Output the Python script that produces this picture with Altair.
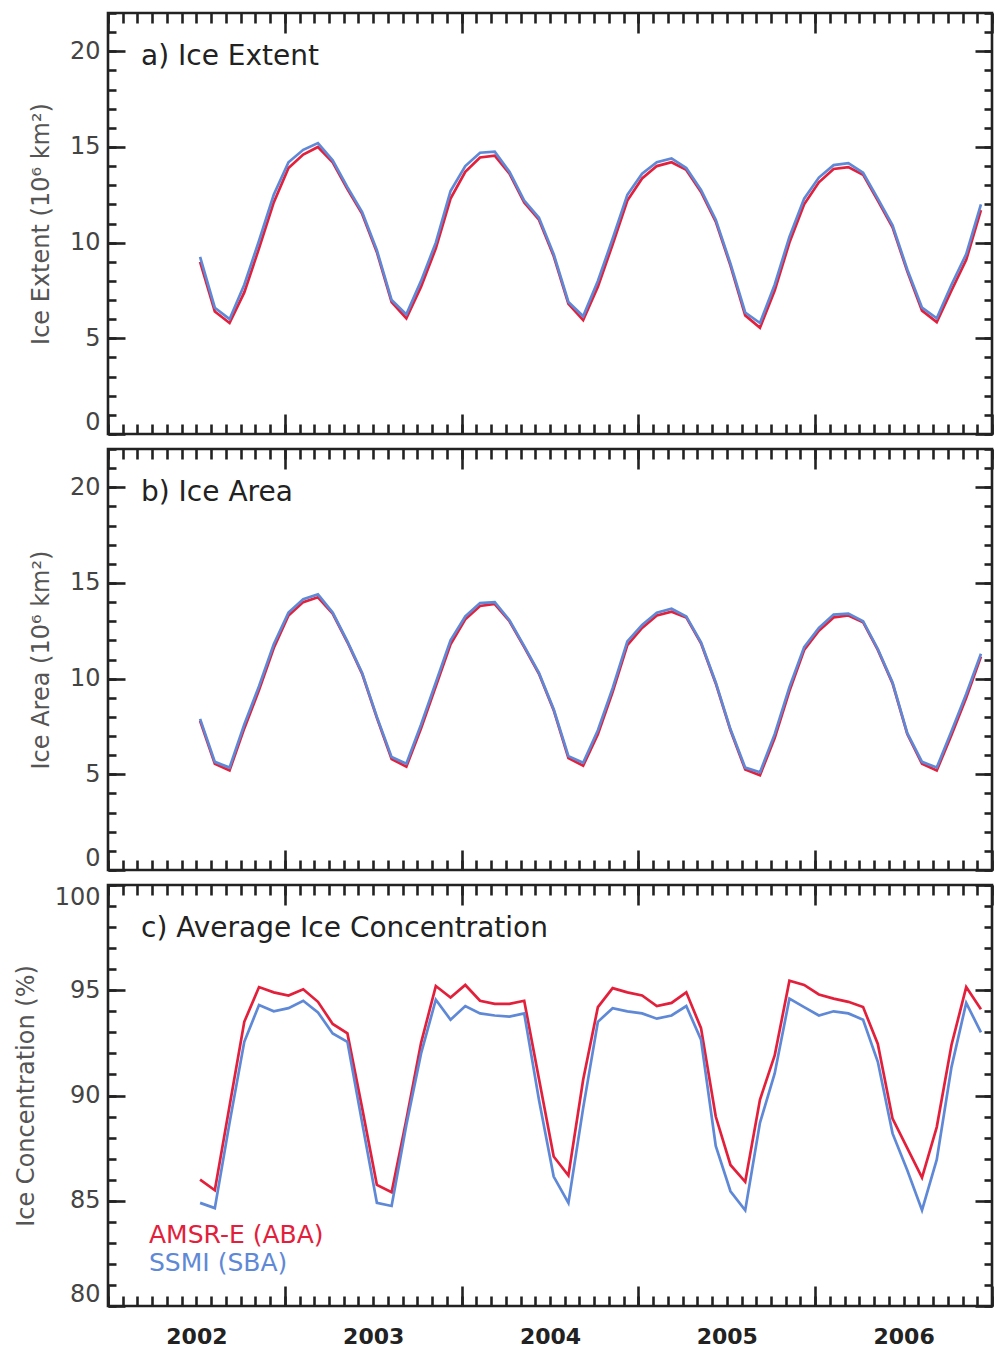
import altair as alt
import pandas as pd

FONT = "DejaVu Sans"

# ---------------- data (monthly, Jul 2002 - Dec 2006) ----------------
months = [f"{y}-{m:02d}" for y in range(2002, 2007) for m in range(1, 13)][6:]

series_names = ["AMSR-E (ABA)", "SSMI (SBA)"]
series_colors = ["#e3203b", "#5f89d6"]

# a) Ice extent (10^6 km^2)
extent_amsr = [9.0, 6.4, 5.8, 7.4, 9.7, 12.1,
               13.9, 14.6, 15.0, 14.2, 12.8, 11.5, 9.5, 6.9, 6.05, 7.7, 9.7, 12.3,
               13.7, 14.45, 14.55, 13.6, 12.1, 11.2, 9.3, 6.8, 5.95, 7.7, 9.9, 12.2,
               13.35, 14.0, 14.2, 13.8, 12.65, 11.1, 8.8, 6.2, 5.55, 7.5, 10.0, 12.0,
               13.15, 13.85, 13.95, 13.55, 12.2, 10.8, 8.5, 6.45, 5.85, 7.5, 9.1, 11.7]
extent_ssmi = [9.25, 6.6, 6.0, 7.8, 10.1, 12.5,
               14.2, 14.85, 15.2, 14.3, 12.9, 11.6, 9.6, 7.0, 6.25, 8.0, 10.0, 12.7,
               14.0, 14.7, 14.75, 13.7, 12.2, 11.3, 9.4, 6.9, 6.15, 8.0, 10.2, 12.5,
               13.6, 14.2, 14.4, 13.9, 12.75, 11.2, 8.9, 6.35, 5.8, 7.8, 10.3, 12.3,
               13.4, 14.05, 14.15, 13.65, 12.3, 10.9, 8.6, 6.6, 6.05, 7.8, 9.4, 12.0]

# b) Ice area (10^6 km^2)
area_amsr = [7.8, 5.55, 5.2, 7.4, 9.4, 11.6,
             13.3, 14.0, 14.25, 13.4, 11.9, 10.25, 7.95, 5.8, 5.4, 7.4, 9.6, 11.8,
             13.1, 13.8, 13.9, 13.0, 11.65, 10.25, 8.35, 5.85, 5.45, 7.1, 9.3, 11.75,
             12.65, 13.3, 13.5, 13.2, 11.85, 9.75, 7.3, 5.25, 4.95, 6.9, 9.35, 11.5,
             12.5, 13.2, 13.3, 12.95, 11.5, 9.75, 7.1, 5.55, 5.2, 7.05, 9.0, 11.15]
area_ssmi = [7.9, 5.65, 5.35, 7.6, 9.6, 11.8,
             13.45, 14.15, 14.4, 13.45, 11.95, 10.3, 8.0, 5.9, 5.55, 7.6, 9.8, 12.0,
             13.25, 13.95, 14.0, 13.05, 11.7, 10.3, 8.4, 5.95, 5.6, 7.3, 9.5, 11.95,
             12.8, 13.45, 13.65, 13.25, 11.9, 9.8, 7.35, 5.35, 5.1, 7.1, 9.55, 11.65,
             12.65, 13.35, 13.4, 13.0, 11.55, 9.8, 7.15, 5.65, 5.35, 7.25, 9.2, 11.3]

# c) Average ice concentration (%)
conc_amsr = [86.0, 85.5, 89.5, 93.5, 95.15, 94.9,
             94.75, 95.05, 94.45, 93.4, 92.95, 89.4, 85.75, 85.4, 88.85, 92.5, 95.2, 94.65,
             95.25, 94.5, 94.35, 94.35, 94.5, 90.8, 87.1, 86.2, 90.75, 94.2, 95.1, 94.9,
             94.75, 94.25, 94.4, 94.9, 93.2, 89.0, 86.7, 85.9, 89.8, 91.9, 95.45, 95.25,
             94.8, 94.6, 94.45, 94.2, 92.45, 88.9, 87.5, 86.1, 88.5, 92.4, 95.15, 94.1]
conc_ssmi = [84.9, 84.65, 88.7, 92.55, 94.3, 94.0,
             94.15, 94.5, 93.95, 92.95, 92.55, 88.7, 84.9, 84.75, 88.6, 92.0, 94.55, 93.6,
             94.25, 93.9, 93.8, 93.75, 93.9, 89.8, 86.15, 84.9, 89.4, 93.5, 94.15, 94.0,
             93.9, 93.65, 93.8, 94.25, 92.65, 87.6, 85.45, 84.55, 88.7, 91.05, 94.6, 94.2,
             93.8, 94.0, 93.9, 93.6, 91.6, 88.2, 86.45, 84.55, 86.95, 91.35, 94.4, 93.0]

year_ticks = [2002, 2003, 2004, 2005, 2006, 2007]
month_ticks = [2002 + k / 12 for k in range(61)]
ext_major = [0, 5, 10, 15, 20]
ext_minor = list(range(0, 23))
conc_major = [80, 85, 90, 95, 100]
conc_minor = list(range(80, 101))


def to_year(ym):
    y, m = ym.split("-")
    return int(y) + (int(m) - 1 + 0.25) / 12


def make_df(amsr, ssmi):
    rows = []
    for name, vals in zip(series_names, [amsr, ssmi]):
        for ym, v in zip(months, vals):
            rows.append({"t": to_year(ym), "v": v, "series": name})
    return pd.DataFrame(rows)


TICK = dict(domain=False, grid=False, tickColor="#222", tickWidth=2.6)
W, H = 884, 421
color_scale = alt.Scale(domain=series_names, range=series_colors)


def panel(df, ydom, ymaj, ymin, ytitle, tag, bottom_labels=False, legend=False):
    xs = alt.Scale(domain=[2002, 2007], nice=False, zero=False)
    ys = alt.Scale(domain=ydom, nice=False, zero=False)
    base = alt.Chart(df)

    lines = base.mark_line(strokeWidth=2.7).encode(
        x=alt.X("t:Q", scale=xs, title=None,
                axis=alt.Axis(orient="bottom", values=year_ticks, tickSize=20,
                              offset=-20, labels=False, **TICK)),
        y=alt.Y("v:Q", scale=ys, title=ytitle,
                axis=alt.Axis(orient="left", values=ymaj, tickSize=17, offset=-17,
                              labelPadding=8, labelFontSize=24, labelFont=FONT,
                              labelColor="#444", format="d", labelFlush=True,
                              titleFont=FONT, titleFontSize=24, titleFontWeight="normal",
                              titleColor="#555", titlePadding=16, **TICK)),
        color=alt.Color("series:N", scale=color_scale, legend=None),
    )

    if bottom_labels:
        xminor_axis = alt.Axis(
            orient="bottom", values=month_ticks, tickSize=10, offset=-10,
            labelExpr="(round((datum.value - 2002) * 12) % 12 == 6) ? '' + floor(datum.value) : ''",
            labelFont=FONT, labelFontSize=22, labelFontWeight="bold", labelColor="#222",
            labelPadding=20, labelOverlap=False, labelFlush=False, labelBound=False, **TICK)
    else:
        xminor_axis = alt.Axis(orient="bottom", values=month_ticks, tickSize=10,
                               offset=-10, labels=False, **TICK)

    minor = base.mark_point(opacity=0).encode(
        x=alt.X("t:Q", scale=xs, title=None, axis=xminor_axis),
        y=alt.Y("v:Q", scale=ys, title=None,
                axis=alt.Axis(orient="left", values=ymin, tickSize=8, offset=-8,
                              labels=False, **TICK)),
    )
    top_major = base.mark_point(opacity=0).encode(
        x=alt.X("t:Q", scale=xs, title=None,
                axis=alt.Axis(orient="top", values=year_ticks, tickSize=20, offset=-20,
                              labels=False, **TICK)),
        y=alt.Y("v:Q", scale=ys, title=None,
                axis=alt.Axis(orient="right", values=ymaj, tickSize=17, offset=-17,
                              labels=False, **TICK)),
    )
    top_minor = base.mark_point(opacity=0).encode(
        x=alt.X("t:Q", scale=xs, title=None,
                axis=alt.Axis(orient="top", values=month_ticks, tickSize=10, offset=-10,
                              labels=False, **TICK)),
        y=alt.Y("v:Q", scale=ys, title=None,
                axis=alt.Axis(orient="right", values=ymin, tickSize=8, offset=-8,
                              labels=False, **TICK)),
    )

    tag_layer = alt.Chart(pd.DataFrame({"tag": [tag]})).mark_text(
        align="left", baseline="alphabetic", font=FONT, fontSize=28, color="#222"
    ).encode(x=alt.value(33), y=alt.value(52), text="tag:N")

    layers = [minor, top_major, top_minor, lines, tag_layer]
    if legend:
        for i, name in enumerate(series_names):
            layers.append(
                alt.Chart(pd.DataFrame({"series": [name]})).mark_text(
                    align="left", baseline="alphabetic", font=FONT, fontSize=25
                ).encode(x=alt.value(41), y=alt.value(358 + 28 * i), text="series:N",
                         color=alt.Color("series:N", scale=color_scale, legend=None))
            )
    return alt.layer(*layers).resolve_axis(x="independent", y="independent").properties(
        width=W, height=H)


pa = panel(make_df(extent_amsr, extent_ssmi), [0, 22], ext_major, ext_minor,
           "Ice Extent (10⁶ km²)", "a) Ice Extent")
pb = panel(make_df(area_amsr, area_ssmi), [0, 22], ext_major, ext_minor,
           "Ice Area (10⁶ km²)", "b) Ice Area")
pc = panel(make_df(conc_amsr, conc_ssmi), [80, 100], conc_major, conc_minor,
           "Ice Concentration (%)", "c) Average Ice Concentration",
           bottom_labels=True, legend=True)

chart = alt.vconcat(pa, pb, pc, spacing=15, bounds="flush").properties(
    padding={"left": 12, "top": 10, "right": 5, "bottom": 5},
    background="white",
).configure_view(stroke="#222", strokeWidth=2.6)

chart.save("out.html", embed_options={"renderer": "svg", "actions": False})
